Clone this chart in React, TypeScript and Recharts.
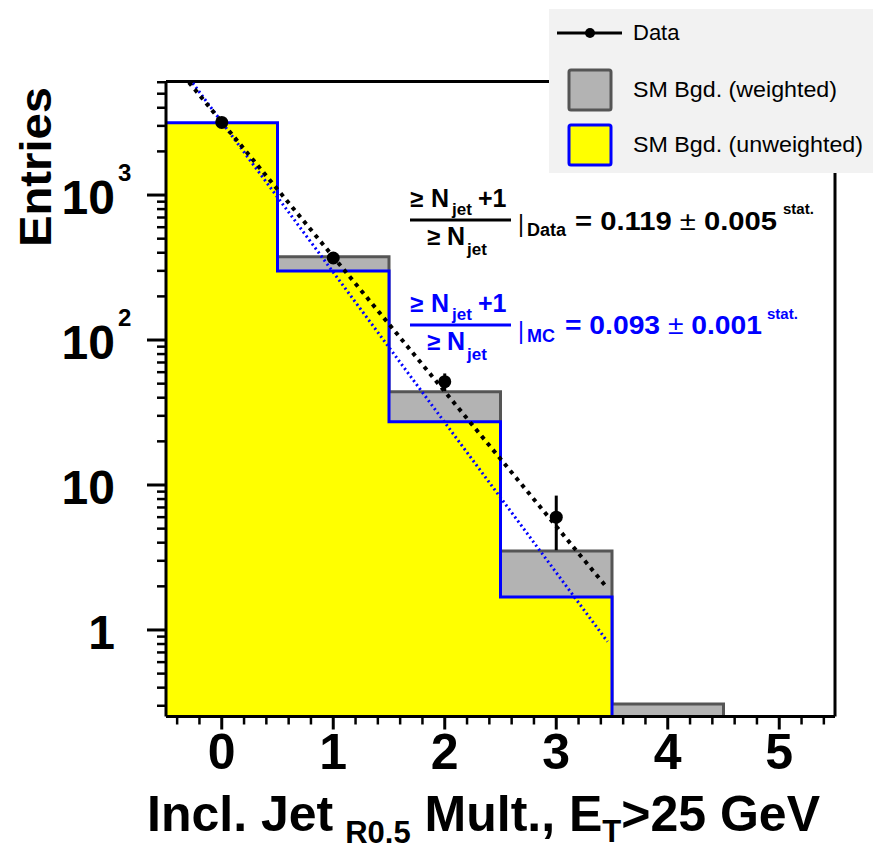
import {
  ComposedChart,
  Area,
  Line,
  Scatter,
  ErrorBar,
  XAxis,
  YAxis,
  ReferenceLine,
} from "recharts";

// bins of the inclusive jet multiplicity
const BIN_CENTERS = [0, 1, 2, 3, 4, 5];
const BIN_EDGES = [-0.5, 0.5, 1.5, 2.5, 3.5, 4.5, 5.5];
const SM_WEIGHTED = [3100, 375, 44, 3.51, 0.309, 0];
const SM_UNWEIGHTED = [3152, 299, 27.3, 1.69, 0, 0];

// data points with stat. errors
const DATA_X = [0, 1, 2, 3];
const DATA_Y = [3170, 368, 51.6, 6.0];
const DATA_ERR = [56, 19, 7.2, 2.45];

// exponential fits (end points)
const FIT_DATA_X = [-0.5, 3.45];
const FIT_DATA_Y = [9300, 1.98];
const FIT_MC_X = [-0.5, 3.46];
const FIT_MC_Y = [10500, 0.83];

const Y_MIN = 0.253;
const Y_MAX = 6070;
const X_MIN = -0.5;
const X_MAX = 5.5;

const Y_MAJOR = [1, 10, 100, 1000];
const Y_MAJOR_BASE = ["1", "10", "10", "10"];
const Y_MAJOR_EXP = ["", "", "2", "3"];
const Y_MINOR = [
  0.3, 0.4, 0.5, 0.6, 0.7, 0.8, 0.9,
  2, 3, 4, 5, 6, 7, 8, 9,
  20, 30, 40, 50, 60, 70, 80, 90,
  200, 300, 400, 500, 600, 700, 800, 900,
  2000, 3000, 4000, 5000, 6000,
];
const X_MAJOR = [0, 1, 2, 3, 4, 5];
const X_TICK_LABELS = ["0", "1", "2", "3", "4", "5"];
const X_TICKS = Array.from({ length: 30 }, (_, i) => Math.round((-0.4 + 0.2 * i) * 10) / 10);

const FONT = '"Liberation Sans", Arial, Helvetica, sans-serif';
const W = 873;
const H = 852;

// eslint-disable-next-line @typescript-eslint/no-explicit-any
type Row = Record<string, any>;

const rows: Row[] = [];
BIN_EDGES.forEach((x, i) => {
  const b = Math.min(i, BIN_CENTERS.length - 1);
  rows.push({
    x,
    w: Math.max(SM_WEIGHTED[b], Y_MIN),
    u: Math.max(SM_UNWEIGHTED[b], Y_MIN),
  });
});
FIT_DATA_X.forEach((x, i) => rows.push({ x, fitData: FIT_DATA_Y[i] }));
FIT_MC_X.forEach((x, i) => rows.push({ x, fitMC: FIT_MC_Y[i] }));
rows.sort((a, b) => a.x - b.x);

const points = DATA_X.map((x, i) => ({ x, y: DATA_Y[i], err: DATA_ERR[i] }));

// eslint-disable-next-line @typescript-eslint/no-explicit-any
function YTick(props: any) {
  const { x, y, payload } = props;
  const idx = Y_MAJOR.indexOf(payload.value);
  if (idx < 0) {
    return <line x1={x - 9} x2={x} y1={y} y2={y} stroke="#000" strokeWidth={2.5} />;
  }
  return (
    <g>
      <line x1={x - 19} x2={x} y1={y} y2={y} stroke="#000" strokeWidth={3} />
      <text x={x - 51} y={y + 19} textAnchor="end" fontFamily={FONT} fontWeight="bold" fontSize={48} fill="#000">
        {Y_MAJOR_BASE[idx]}
      </text>
      {Y_MAJOR_EXP[idx] && (
        <text x={x - 48} y={y - 14} fontFamily={FONT} fontWeight="bold" fontSize={24} fill="#000">
          {Y_MAJOR_EXP[idx]}
        </text>
      )}
    </g>
  );
}

// eslint-disable-next-line @typescript-eslint/no-explicit-any
function XTick(props: any) {
  const { x, y, payload } = props;
  const idx = X_MAJOR.indexOf(payload.value);
  if (idx < 0) {
    return <line x1={x} x2={x} y1={y} y2={y + 8} stroke="#000" strokeWidth={2.5} />;
  }
  return (
    <g>
      <line x1={x} x2={x} y1={y} y2={y + 13} stroke="#000" strokeWidth={3} />
      <text x={x} y={y + 52} textAnchor="middle" fontFamily={FONT} fontWeight="bold" fontSize={50} fill="#000">
        {X_TICK_LABELS[idx]}
      </text>
    </g>
  );
}

// eslint-disable-next-line @typescript-eslint/no-explicit-any
function DataDot(props: any) {
  const { cx, cy } = props;
  return <circle cx={cx} cy={cy} r={6.5} fill="#000" />;
}

function Ratio({ color, dy, tag, value, err }: { color: string; dy: number; tag: string; value: string; err: string }) {
  const t = { fontFamily: FONT, fontWeight: "bold" as const, fill: color };
  const isData = tag === "Data";
  return (
    <g transform={`translate(0, ${dy})`}>
      <text x={410} y={207} {...t} fontSize={24}>≥</text>
      <text x={431} y={207} {...t} fontSize={25}>N</text>
      <text x={452} y={215} {...t} fontSize={17}>jet</text>
      <text x={478} y={207} {...t} fontSize={25}>+1</text>
      <line x1={410} x2={511} y1={220} y2={220} stroke={color} strokeWidth={3} />
      <text x={427} y={245} {...t} fontSize={24}>≥</text>
      <text x={447} y={245} {...t} fontSize={25}>N</text>
      <text x={467} y={255} {...t} fontSize={17}>jet</text>
      <text x={518} y={isData ? 232 : 234} {...t} fontWeight="normal" fontSize={23}>|</text>
      <text x={527} y={isData ? 236 : 237} {...t} fontSize={18}>{tag}</text>
      <text
        x={isData ? 575 : 565}
        y={isData ? 230 : 229}
        {...t}
        fontSize={26}
        textLength={isData ? 202 : 197}
        lengthAdjust="spacingAndGlyphs"
      >
        = {value} <tspan fontWeight="normal">±</tspan> {err}
      </text>
      <text x={isData ? 783 : 767} y={214} {...t} fontSize={15}>stat.</text>
    </g>
  );
}

function Overlay() {
  const t = { fontFamily: FONT, fill: "#000" };
  return (
    <svg width={W} height={H} style={{ position: "absolute", left: 0, top: 0, pointerEvents: "none" }}>
      {/* axis titles */}
      <text
        transform="translate(51, 167) rotate(-90)"
        textAnchor="middle"
        {...t}
        fontWeight="bold"
        fontSize={45}
        textLength={160}
        lengthAdjust="spacingAndGlyphs"
      >
        Entries
      </text>
      <text x={147} y={831} {...t} fontWeight="bold" fontSize={50}>
        Incl. Jet
        <tspan fontSize={31} dx={12} dy={12}>R0.5</tspan>
        <tspan dy={-12}> Mult., E</tspan>
        <tspan fontSize={31} dy={11}>T</tspan>
        <tspan dy={-11}>&gt;25 GeV</tspan>
      </text>

      {/* fit results */}
      <Ratio color="#000" dy={0} tag="Data" value="0.119" err="0.005" />
      <Ratio color="#0000ff" dy={105} tag="MC" value="0.093" err="0.001" />

      {/* legend */}
      <rect x={549} y={9} width={324} height={164} fill="#f2f2f2" />
      <line x1={557} x2={622} y1={33} y2={33} stroke="#000" strokeWidth={3} />
      <circle cx={590} cy={33} r={5} fill="#000" />
      <text x={633} y={40} {...t} fontSize={22}>Data</text>
      <rect x={569} y={70} width={42} height={40} rx={2} fill="#b3b3b3" stroke="#555" strokeWidth={3} />
      <text x={633} y={97} {...t} fontSize={22} textLength={204} lengthAdjust="spacingAndGlyphs">
        SM Bgd. (weighted)
      </text>
      <rect x={569} y={125} width={42} height={40} rx={2} fill="#ffff00" stroke="#0000ff" strokeWidth={3} />
      <text x={633} y={152} {...t} fontSize={22} textLength={230} lengthAdjust="spacingAndGlyphs">
        SM Bgd. (unweighted)
      </text>
    </svg>
  );
}

export default function App() {
  return (
    <div style={{ position: "absolute", left: 0, top: 0, width: W, height: H, background: "#fff" }}>
      <ComposedChart
        width={W}
        height={H}
        data={rows}
        margin={{ top: 81.5, right: 38, bottom: 75.5, left: 66 }}
      >
        <XAxis
          dataKey="x"
          type="number"
          domain={[X_MIN, X_MAX]}
          ticks={X_TICKS}
          interval={0}
          tick={<XTick />}
          tickLine={false}
          tickSize={0}
          tickMargin={0}
          height={60}
          axisLine={{ stroke: "#000", strokeWidth: 3 }}
        />
        <YAxis
          yAxisId="h"
          type="number"
          scale="log"
          domain={[Y_MIN, Y_MAX]}
          ticks={[...Y_MINOR, ...Y_MAJOR]}
          interval={0}
          tick={<YTick />}
          tickLine={false}
          tickSize={0}
          tickMargin={0}
          width={100}
          axisLine={{ stroke: "#000", strokeWidth: 3 }}
        />
        <YAxis
          yAxisId="fit"
          type="number"
          scale="log"
          domain={[Y_MIN, Y_MAX]}
          allowDataOverflow
          width={0}
          hide
        />

        <ReferenceLine yAxisId="h" y={Y_MAX} stroke="#000" strokeWidth={3} ifOverflow="visible" />
        <ReferenceLine yAxisId="h" x={X_MAX} stroke="#000" strokeWidth={3} ifOverflow="visible" />

        <Area
          yAxisId="h"
          type="stepAfter"
          dataKey="w"
          baseValue="dataMin"
          stroke="#555555"
          strokeWidth={3}
          fill="#b3b3b3"
          fillOpacity={1}
          connectNulls
          isAnimationActive={false}
        />
        <Area
          yAxisId="h"
          type="stepAfter"
          dataKey="u"
          baseValue="dataMin"
          stroke="#0000ff"
          strokeWidth={3}
          fill="#ffff00"
          fillOpacity={1}
          connectNulls
          isAnimationActive={false}
        />
        <Line
          yAxisId="fit"
          type="linear"
          dataKey="fitMC"
          stroke="#0000ff"
          strokeWidth={3}
          strokeDasharray="2 3"
          dot={false}
          connectNulls
          isAnimationActive={false}
        />
        <Line
          yAxisId="fit"
          type="linear"
          dataKey="fitData"
          stroke="#000"
          strokeWidth={4}
          strokeDasharray="4 5"
          dot={false}
          connectNulls
          isAnimationActive={false}
        />
        <Scatter yAxisId="h" data={points} dataKey="y" shape={<DataDot />} isAnimationActive={false}>
          <ErrorBar dataKey="err" direction="y" width={0} stroke="#000" strokeWidth={3} />
        </Scatter>
      </ComposedChart>
      <Overlay />
    </div>
  );
}
